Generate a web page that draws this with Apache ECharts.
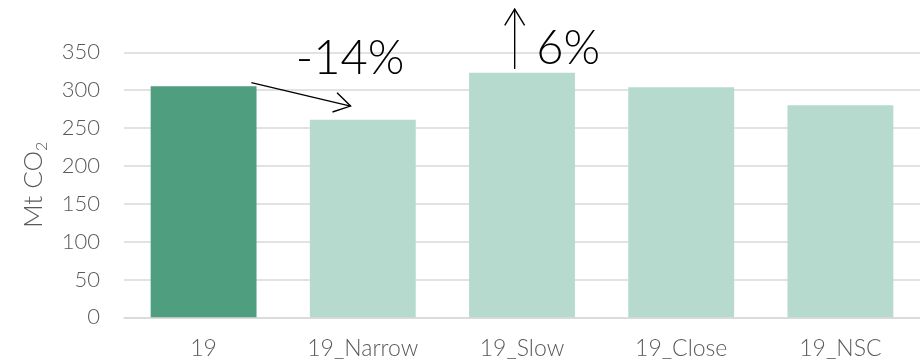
<!DOCTYPE html>
<html>
<head>
<meta charset="utf-8">
<script src="https://cdn.jsdelivr.net/npm/echarts@6/dist/echarts.min.js"></script>
<style>
html,body{margin:0;padding:0;background:#fff;}
#c{width:920px;height:361px;}
</style>
</head>
<body>
<div id="c"></div>
<script>
const categories = ['19', '19_Narrow', '19_Slow', '19_Close', '19_NSC'];
const values = [305, 261, 323, 304, 280];
const barColors = ['#4E9E7F', '#B6DACE', '#B6DACE', '#B6DACE', '#B6DACE'];
const yTicks = [0, 50, 100, 150, 200, 250, 300, 350];
const annotations = ['-14%', '6%'];

const FONT = 'Lato';
const chart = echarts.init(document.getElementById('c'), null, {renderer: 'canvas'});
chart.setOption({
  animation: false,
  grid: {left: 124, right: 0, top: 52.3, bottom: 43.7, containLabel: false},
  xAxis: {
    type: 'category',
    data: categories,
    axisTick: {show: false},
    axisLine: {lineStyle: {color: '#D9D9D9', width: 1.5}},
    axisLabel: {color: '#595959', fontFamily: FONT, fontWeight: 300, fontSize: 23, margin: 20}
  },
  yAxis: {
    type: 'value',
    min: yTicks[0],
    max: yTicks[yTicks.length - 1],
    interval: 50,
    name: '{a|Mt CO}{b|2}',
    nameLocation: 'middle',
    nameGap: 74,
    nameRotate: 90,
    nameTextStyle: {
      rich: {
        a: {fontFamily: FONT, fontWeight: 300, fontSize: 26, color: '#595959'},
        b: {fontFamily: FONT, fontWeight: 300, fontSize: 16, color: '#595959', padding: [16, 0, 0, 0], verticalAlign: 'bottom'}
      }
    },
    axisLine: {show: false},
    axisTick: {show: false},
    splitLine: {lineStyle: {color: '#D9D9D9', width: 1.5}},
    axisLabel: {color: '#595959', fontFamily: FONT, fontWeight: 300, fontSize: 22, margin: 24}
  },
  series: [{
    type: 'bar',
    data: values.map((v, i) => ({value: v, itemStyle: {color: barColors[i]}})),
    barCategoryGap: '33.5%'
  }]
});

// annotations anchored to data coordinates
const px = (cat, val) => chart.convertToPixel({gridIndex: 0}, [cat, val]);
const band = px(1, 0)[0] - px(0, 0)[0];
function pt(catIdx, frac, val) {
  const p = px(catIdx, val);
  return [p[0] + frac * band, p[1]];
}
function arrow(a, b) {
  const ang = Math.atan2(b[1] - a[1], b[0] - a[0]);
  const L = 19, spread = 0.55;
  const h1 = [b[0] - L * Math.cos(ang - spread), b[1] - L * Math.sin(ang - spread)];
  const h2 = [b[0] - L * Math.cos(ang + spread), b[1] - L * Math.sin(ang + spread)];
  return [
    {type: 'line', shape: {x1: a[0], y1: a[1], x2: b[0], y2: b[1]}, style: {stroke: '#000', lineWidth: 1.4}, z: 100},
    {type: 'polyline', shape: {points: [h1, b, h2]}, style: {stroke: '#000', lineWidth: 1.4, fill: null}, z: 100}
  ];
}
const a1s = pt(0, 0.30, 310), a1e = pt(1, -0.077, 279);
const a2s = pt(2, -0.046, 328), a2e = pt(2, -0.046, 407);
const t1 = pt(1, -0.08, 342), t2 = pt(2, 0.29, 355);
chart.setOption({
  graphic: [
    ...arrow(a1s, a1e),
    ...arrow(a2s, a2e),
    {type: 'text', x: t1[0], y: t1[1], z: 100, style: {text: annotations[0], font: '300 47px ' + FONT, fill: '#000', align: 'center', verticalAlign: 'middle'}},
    {type: 'text', x: t2[0], y: t2[1], z: 100, style: {text: annotations[1], font: '300 47px ' + FONT, fill: '#000', align: 'center', verticalAlign: 'middle'}}
  ]
});
</script>
</body>
</html>
